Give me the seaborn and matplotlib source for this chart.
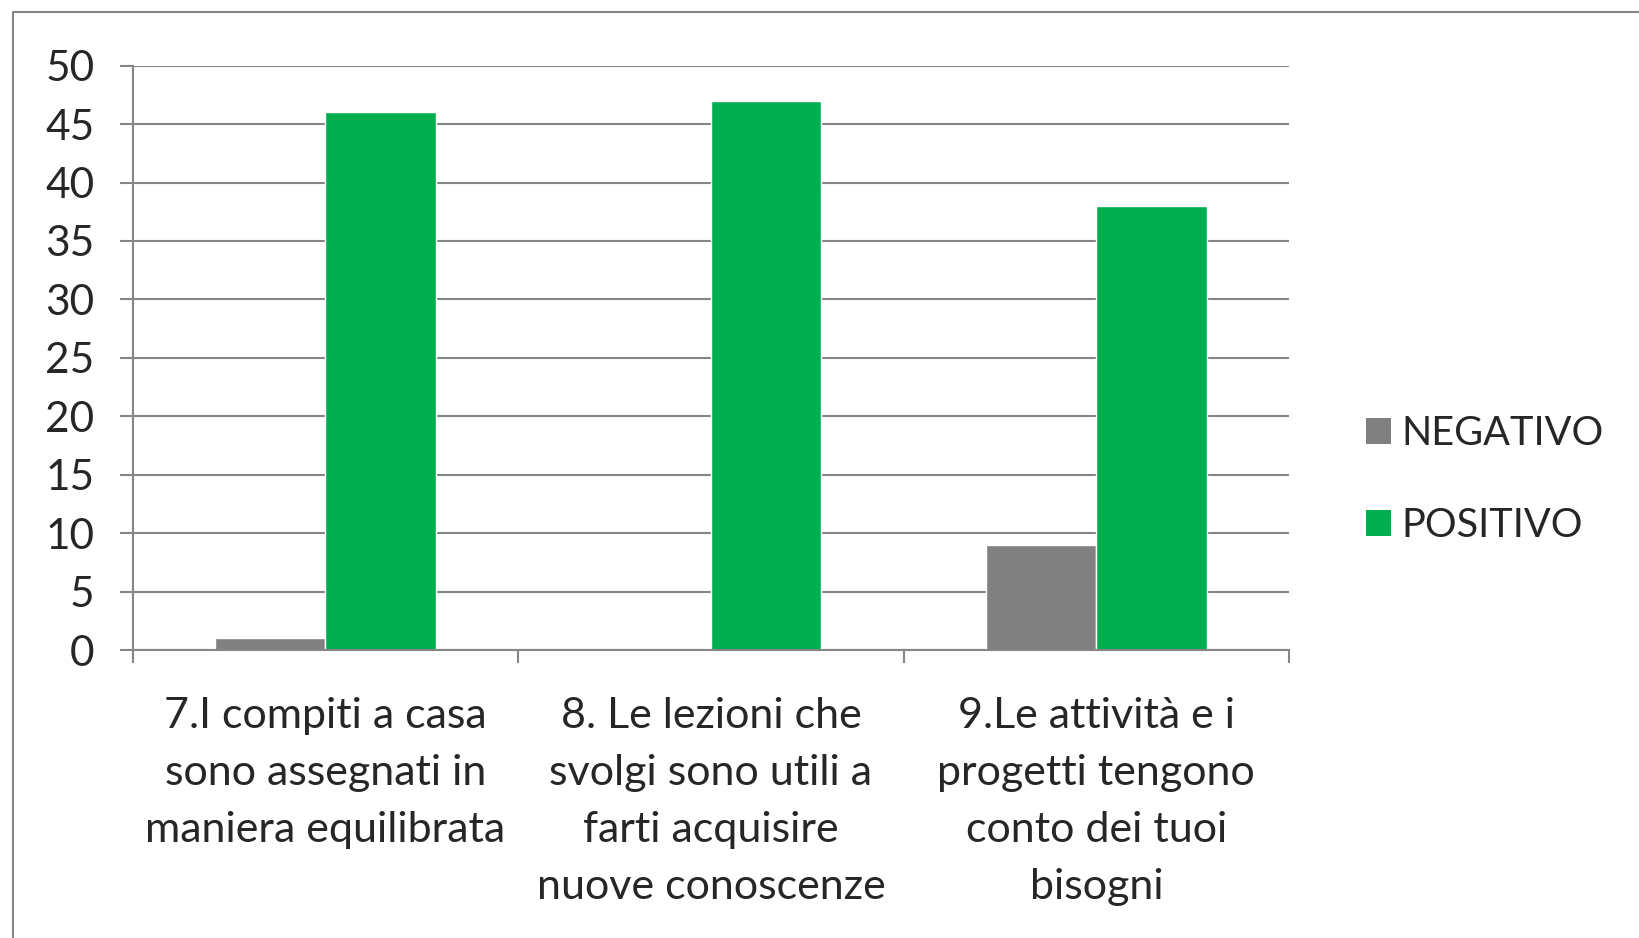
import pandas as pd
import matplotlib
matplotlib.use('Agg')
import matplotlib.pyplot as plt
from matplotlib.lines import Line2D
from matplotlib.patches import Patch
import seaborn as sns

categories = ['7.I compiti a casa\nsono assegnati in\nmaniera equilibrata',
              '8. Le lezioni che\nsvolgi sono utili a\nfarti acquisire\nnuove conoscenze',
              '9.Le attività e i\nprogetti tengono\nconto dei tuoi\nbisogni']
negativo = [1, 0, 9]
positivo = [46, 47, 38]
series = ['NEGATIVO', 'POSITIVO']
colors = ['#808080', '#00AD4F']
yticks = [0, 5, 10, 15, 20, 25, 30, 35, 40, 45, 50]

df = pd.DataFrame({'cat': categories * 2,
                   'serie': [series[0]] * 3 + [series[1]] * 3,
                   'val': negativo + positivo})

sns.set_style('white')
plt.rcParams['font.family'] = ['Lato', 'DejaVu Sans']

fig = plt.figure(figsize=(16.39, 9.38), dpi=100)
ax = fig.add_axes([0.081, 0.307, 0.7055, 0.623])

sns.barplot(data=df, x='cat', y='val', hue='serie', palette=colors,
            width=0.572, saturation=1, legend=False, ax=ax)

gc = '#868686'
ax.set_ylim(0, 50)
ax.set_xlim(-0.5, 2.5)
ax.set_yticks(yticks)
ax.set_yticklabels([str(v) for v in yticks], fontsize=30.5)
ax.yaxis.grid(True, color=gc, linewidth=1.5)
ax.set_axisbelow(True)
ax.set_xlabel('')
ax.set_ylabel('')
for s in ['top', 'right']:
    ax.spines[s].set_visible(False)
for s in ['left', 'bottom']:
    ax.spines[s].set_color(gc)
    ax.spines[s].set_linewidth(1.5)

ax.tick_params(axis='y', left=True, length=9.5, width=1.5, color=gc, pad=18)
ax.set_xticks([0, 1, 2])
ax.set_xticklabels(categories, fontsize=31, linespacing=1.62, va='top')
ax.tick_params(axis='x', bottom=False, pad=30)
ax.set_xticks([-0.5, 0.5, 1.5, 2.5], minor=True)
ax.tick_params(axis='x', which='minor', bottom=True, length=9.5, width=1.5, color=gc)

handles = [Patch(facecolor=c, edgecolor='none') for c in colors]
fig.legend(handles, series, loc='center left', bbox_to_anchor=(0.812, 0.489),
           frameon=False, fontsize=28.5, handlelength=0.62, handleheight=0.62,
           handletextpad=0.25, labelspacing=1.4)

fig.add_artist(Line2D([0.0078, 0.0078, 1.0], [0.0, 0.9867, 0.9867],
                      transform=fig.transFigure, color=gc, linewidth=1.5))

fig.savefig('out.png', dpi=100)
